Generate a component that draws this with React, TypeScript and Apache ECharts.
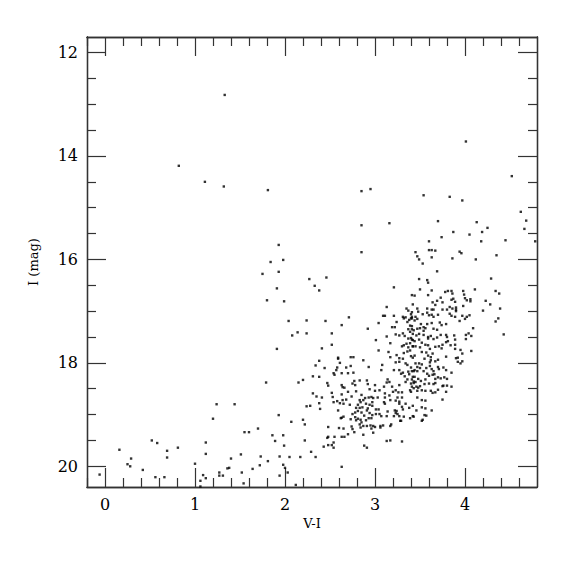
import React, { useEffect, useRef } from "react";
import * as echarts from "echarts";

// Tick values
const xMajorTicks = [0, 1, 2, 3, 4];
const xMinorTicks = [-0.2, 0.2, 0.4, 0.6, 0.8, 1.2, 1.4, 1.6, 1.8, 2.2, 2.4, 2.6, 2.8, 3.2, 3.4, 3.6, 3.8, 4.2, 4.4, 4.6];
const yMajorTicks = [12, 14, 16, 18, 20];
const yMinorTicks = [12.5, 13, 13.5, 14.5, 15, 15.5, 16.5, 17, 17.5, 18.5, 19, 19.5];

// Stars: [V-I, I]
const brightStars: number[][] = [
  [1.33, 12.82], [0.82, 14.19], [1.11, 14.5], [1.32, 14.59], [1.81, 14.66], [4.01, 13.72], [4.52, 14.39],
  [2.85, 14.68], [2.95, 14.64], [3.54, 14.76], [3.83, 14.79], [3.97, 14.86], [4.62, 15.08], [4.68, 15.25],
  [2.85, 15.34], [3.16, 15.3], [3.7, 15.26], [4.13, 15.28], [4.25, 15.39], [4.66, 15.41], [3.87, 15.47],
  [4.05, 15.52], [4.19, 15.47], [3.74, 15.57], [3.6, 15.65], [4.18, 15.65], [4.45, 15.63], [4.78, 15.65],
];

const blueStars: number[][] = [
  [1.93, 15.72], [1.84, 16.05], [1.98, 16.01], [1.93, 16.24], [1.75, 16.28], [1.91, 16.56], [1.8, 16.79],
  [1.99, 16.81], [2.04, 17.19], [1.91, 17.73], [1.79, 18.38], [1.93, 19.01], [1.2, 19.08], [1.24, 18.8],
  [1.44, 18.8], [1.7, 19.27], [1.55, 19.34], [1.6, 19.34], [1.86, 19.4], [1.98, 19.4], [1.89, 19.51],
  [1.99, 19.6], [1.12, 19.54], [1.12, 19.76], [1.0, 19.95], [0.16, 19.68], [0.29, 19.85], [0.25, 19.96],
  [0.28, 20.0], [0.42, 20.07], [0.52, 19.5], [0.58, 19.55], [0.69, 19.7], [0.69, 19.83], [0.81, 19.64],
  [-0.06, 20.16], [0.56, 20.21], [0.66, 20.21], [1.06, 20.28], [1.09, 20.17], [1.12, 20.23], [1.06, 20.39],
  [1.27, 20.12], [1.27, 20.18], [1.31, 20.18], [1.36, 20.04], [1.38, 20.03], [1.4, 19.85], [1.51, 19.77],
  [1.52, 20.12], [1.54, 20.33], [1.64, 20.05], [1.73, 19.81], [1.72, 19.98], [1.81, 19.9], [1.94, 19.81],
  [1.98, 19.97], [2.0, 20.03], [1.94, 20.18], [2.03, 20.12],
];

const midStars: number[][] = [
  [2.85, 15.86], [3.45, 15.86], [2.27, 16.38], [2.46, 16.35], [2.33, 16.51], [2.38, 16.6], [3.21, 16.54],
  [2.24, 17.18], [2.45, 17.19], [2.71, 17.12], [2.63, 17.27], [2.92, 17.34], [2.08, 17.47], [2.14, 17.41],
  [2.24, 17.43], [2.52, 17.43], [2.52, 17.65], [2.41, 17.72], [2.59, 17.9], [2.73, 17.89], [2.76, 17.89],
  [3.13, 16.92], [3.09, 17.09], [3.11, 17.09], [3.21, 17.09], [3.04, 17.23], [3.19, 17.31], [3.22, 17.31],
  [3.24, 17.21], [3.13, 17.49], [3.23, 17.45], [3.27, 17.47], [3.31, 17.43], [3.33, 17.48], [3.01, 17.56],
  [3.17, 17.62], [3.04, 17.76], [3.15, 17.79], [3.24, 17.85], [3.3, 17.68], [3.32, 17.66], [3.35, 16.95],
  [3.37, 16.99], [3.34, 17.12], [3.31, 17.11], [3.32, 17.14], [3.4, 17.06], [3.41, 17.11], [3.4, 17.14],
  [3.38, 17.17], [3.36, 17.21], [3.39, 17.28], [3.37, 17.35], [3.41, 17.35], [3.39, 17.4], [3.42, 17.44],
  [3.37, 17.53], [3.4, 17.52], [3.42, 17.56], [3.39, 17.62], [3.35, 17.63], [3.37, 17.7], [3.42, 17.68],
  [3.39, 17.76], [3.36, 17.78], [3.32, 17.81], [3.4, 17.87], [3.17, 17.89], [3.27, 17.91],
];

const clumpUpper: number[][] = [
  [3.6, 15.82], [3.63, 15.82], [3.67, 15.83], [3.47, 15.94], [3.49, 16.0], [3.63, 15.96], [3.53, 16.08],
  [3.86, 15.98], [3.94, 15.85], [3.96, 15.88], [4.12, 16.0], [4.35, 15.92], [3.69, 16.23], [4.29, 16.37],
  [3.49, 16.38], [3.58, 16.4], [3.59, 16.45], [3.5, 16.58], [3.63, 16.6], [3.41, 16.69], [3.44, 16.7],
  [3.59, 16.69], [3.78, 16.63], [3.81, 16.61], [3.85, 16.61], [3.86, 16.66], [3.98, 16.61], [3.99, 16.68],
  [4.11, 16.58], [4.34, 16.61], [4.38, 16.66], [3.73, 16.74], [3.75, 16.83], [3.85, 16.78], [3.87, 16.76],
  [3.89, 16.82], [4.0, 16.75], [4.02, 16.79], [4.06, 16.77], [4.06, 16.81], [4.23, 16.8], [3.64, 16.83],
  [3.69, 16.8], [3.42, 16.87], [3.67, 16.88], [4.28, 16.87], [3.98, 16.9], [3.58, 16.95], [3.65, 16.97],
  [3.63, 16.97], [3.75, 16.97], [3.8, 16.97], [3.83, 16.92], [3.86, 16.95], [3.9, 16.93], [3.9, 16.97],
  [4.2, 16.99], [4.39, 16.95], [3.47, 16.95], [3.48, 17.01], [3.53, 17.06], [3.58, 17.03], [3.6, 17.08],
  [3.63, 17.07], [3.65, 17.11], [3.7, 17.07], [3.41, 17.02], [3.45, 17.11], [3.41, 17.14], [3.44, 17.18],
  [3.47, 17.15], [3.83, 17.05], [3.85, 17.09], [3.9, 17.0], [3.89, 17.11], [3.97, 17.09], [4.02, 17.11],
  [4.0, 17.15], [4.05, 17.08], [3.94, 17.19], [4.37, 17.14], [4.34, 17.2], [3.51, 17.25], [3.58, 17.25],
  [3.63, 17.23], [3.72, 17.22], [3.74, 17.27], [3.79, 17.25], [4.09, 17.33],
];

const clumpMiddle: number[][] = [
  [3.41, 17.29], [3.43, 17.37], [3.47, 17.34], [3.5, 17.33], [3.54, 17.31], [3.56, 17.33], [3.54, 17.38],
  [3.65, 17.34], [3.69, 17.36], [3.46, 17.47], [3.49, 17.44], [3.54, 17.46], [3.59, 17.5], [3.59, 17.53],
  [3.62, 17.48], [3.65, 17.54], [3.69, 17.51], [3.73, 17.46], [3.79, 17.46], [3.8, 17.5], [3.81, 17.58],
  [3.79, 17.6], [3.88, 17.47], [3.89, 17.55], [4.01, 17.46], [4.01, 17.54], [4.04, 17.43], [4.07, 17.48],
  [4.43, 17.45], [3.41, 17.55], [3.44, 17.58], [3.45, 17.68], [3.42, 17.68], [3.49, 17.55], [3.52, 17.61],
  [3.5, 17.7], [3.56, 17.65], [3.59, 17.66], [3.61, 17.73], [3.67, 17.69], [3.71, 17.68], [3.74, 17.72],
  [3.75, 17.65], [3.84, 17.66], [3.89, 17.65], [3.89, 17.73], [3.95, 17.75], [3.97, 17.82], [4.07, 17.77],
  [3.52, 17.79], [3.57, 17.8], [3.59, 17.86], [3.64, 17.82], [3.62, 17.89], [3.79, 17.88], [3.92, 17.9],
  [3.44, 17.86], [3.42, 17.9],
];

const branchLower: number[][] = [
  [2.38, 17.96], [2.34, 18.05], [2.59, 17.92], [2.61, 18.0], [2.57, 18.14], [2.58, 18.09], [2.68, 18.09],
  [2.73, 18.06], [2.87, 17.95], [2.93, 18.08], [3.08, 18.04], [3.07, 18.14], [3.23, 17.99], [3.27, 17.98],
  [3.31, 17.92], [3.21, 18.14], [3.27, 18.14], [2.44, 18.1], [2.54, 18.2], [2.55, 18.23], [2.63, 18.2],
  [2.7, 18.2], [2.76, 18.19], [2.31, 18.26], [2.38, 18.27], [2.2, 18.33], [2.15, 18.38], [2.47, 18.39],
  [2.91, 18.34], [2.92, 18.41], [3.0, 18.43], [3.14, 18.32], [3.13, 18.38], [3.16, 18.37], [2.75, 18.4],
  [2.78, 18.43], [2.63, 18.43], [2.64, 18.47], [3.1, 18.46], [3.11, 18.59], [3.2, 18.56], [3.23, 18.53],
  [3.26, 18.57], [3.3, 18.57], [3.39, 18.53], [3.4, 18.56], [2.31, 18.59], [2.35, 18.65], [2.41, 18.67],
  [2.38, 18.78], [2.24, 18.84], [2.28, 18.83], [2.39, 18.89], [2.52, 18.58], [2.53, 18.66], [2.54, 18.76],
  [2.58, 18.74], [2.61, 18.78], [2.64, 18.72], [2.65, 18.79], [2.59, 18.92], [2.68, 18.71], [2.79, 18.55],
  [2.83, 18.72], [2.87, 18.72], [2.84, 18.76], [2.81, 18.81], [2.79, 18.87], [2.81, 18.93], [2.89, 18.68],
  [2.93, 18.67], [2.96, 18.66], [2.98, 18.68], [2.97, 18.76], [2.9, 18.79], [2.92, 18.88], [2.86, 18.86],
  [2.97, 18.83], [3.11, 18.67], [3.1, 18.76], [3.11, 18.79], [3.16, 18.63], [3.17, 18.72], [3.23, 18.73],
  [3.27, 18.75], [3.27, 18.79], [3.22, 18.92], [3.23, 18.97], [3.24, 18.93], [3.34, 18.79], [3.38, 18.87],
  [3.42, 18.83], [3.32, 19.04], [3.28, 19.12], [3.39, 19.07], [3.43, 19.04], [3.3, 18.85], [3.31, 18.9],
  [3.14, 18.94], [3.01, 18.9], [3.04, 18.9], [3.05, 18.99], [3.01, 18.99], [2.94, 18.97], [2.97, 19.01],
  [2.96, 19.07], [2.93, 19.07], [2.85, 18.96], [2.88, 19.02], [2.9, 19.11], [2.85, 19.15], [2.87, 19.22],
  [2.83, 19.19], [2.78, 19.05], [2.81, 19.08], [2.91, 19.22], [2.95, 19.21], [2.98, 19.22], [3.06, 19.22],
  [3.09, 19.21], [3.17, 19.22], [3.18, 19.19], [2.96, 19.27], [3.0, 19.24], [3.06, 19.25], [2.98, 19.35],
  [2.87, 19.39], [2.84, 19.25], [2.73, 19.09], [2.74, 19.23], [2.75, 19.28], [2.77, 19.34], [2.6, 19.26],
  [2.65, 19.27], [2.63, 19.43], [2.66, 19.43], [2.7, 19.38], [2.63, 19.06], [2.62, 19.07], [2.65, 19.04],
  [2.55, 19.43], [2.48, 19.43], [2.47, 19.45], [2.54, 19.54], [2.52, 19.59], [2.48, 19.59], [2.43, 19.62],
  [2.54, 19.64], [2.48, 19.24], [2.2, 19.1], [2.22, 19.19], [2.22, 19.5], [2.29, 19.72], [2.34, 19.82],
  [2.17, 19.82], [2.05, 19.82], [2.07, 19.14], [2.12, 20.36], [2.63, 20.01], [2.88, 19.6], [2.91, 19.64],
  [3.13, 19.51], [3.17, 19.5], [3.3, 19.52], [3.29, 18.21], [3.33, 18.26], [3.38, 18.22], [3.42, 18.27],
  [3.36, 18.32], [3.41, 18.32], [3.34, 18.37], [3.4, 18.4], [3.43, 18.36], [3.34, 18.01], [3.36, 18.04],
  [3.4, 18.09], [3.37, 18.17], [3.43, 18.16], [3.31, 18.19], [3.43, 18.49], [3.07, 19.03], [3.13, 19.03],
  [3.21, 19.03], [3.25, 18.99], [3.27, 19.03], [3.29, 19.12], [2.91, 18.92], [2.72, 18.81], [2.83, 18.87],
  [2.94, 18.81], [3.25, 18.67], [3.3, 18.67], [3.19, 18.46], [3.27, 18.43], [2.83, 18.34], [2.77, 18.35],
  [2.94, 18.51], [3.0, 18.54], [3.05, 18.53], [2.85, 18.62], [3.03, 18.67], [2.7, 18.56], [2.63, 18.61],
  [2.74, 18.65], [2.66, 18.48], [2.48, 18.44], [2.84, 19.1], [2.79, 19.11], [2.78, 18.96], [2.75, 18.99],
];

const clumpLower: number[][] = [
  [3.55, 17.92], [3.62, 17.95], [3.67, 17.97], [3.7, 17.94], [3.61, 17.99], [3.9, 17.91], [3.92, 17.98],
  [3.95, 18.01], [3.97, 17.97], [3.45, 18.01], [3.49, 18.01], [3.52, 18.03], [3.47, 18.08], [3.5, 18.1],
  [3.44, 18.14], [3.47, 18.16], [3.41, 18.16], [3.54, 18.16], [3.57, 18.1], [3.61, 18.06], [3.63, 18.12],
  [3.65, 18.16], [3.7, 18.08], [3.71, 18.12], [3.66, 18.22], [3.64, 18.23], [3.6, 18.25], [3.58, 18.21],
  [3.67, 18.31], [3.7, 18.28], [3.73, 18.3], [3.77, 18.28], [3.8, 18.31], [3.76, 18.44], [3.8, 18.44],
  [3.75, 18.45], [3.67, 18.39], [3.65, 18.41], [3.44, 18.27], [3.48, 18.31], [3.45, 18.37], [3.51, 18.35],
  [3.56, 18.32], [3.43, 18.39], [3.48, 18.48], [3.46, 18.46], [3.5, 18.45], [3.55, 18.41], [3.6, 18.4],
  [3.41, 18.46], [3.47, 18.54], [3.52, 18.53], [3.56, 18.54], [3.62, 18.54], [3.64, 18.58], [3.67, 18.57],
  [3.7, 18.52], [3.79, 18.56], [3.85, 18.46], [3.85, 18.19], [3.76, 18.09], [3.79, 18.14], [3.47, 18.67],
  [3.52, 18.72], [3.56, 18.73], [3.75, 18.71], [3.52, 18.86], [3.56, 18.88], [3.63, 18.92], [3.46, 18.92],
  [3.55, 19.01], [3.57, 19.02], [3.42, 19.03], [3.53, 19.1], [3.52, 19.12],
];

const allStars = [
  ...brightStars, ...blueStars, ...midStars, ...clumpUpper, ...clumpMiddle, ...branchLower, ...clumpLower,
];

const FONT = "DejaVu Serif";
const FRAME = "#333333";

function makeX(position: "bottom" | "top", ticks: number[], len: number, main: boolean): any {
  return {
    type: "value",
    position,
    min: -0.2,
    max: 4.8,
    gridIndex: 0,
    name: main ? "V-I" : "",
    nameLocation: "middle",
    nameGap: 22,
    nameTextStyle: { fontFamily: FONT, fontSize: 13, color: "#000" },
    axisLine: { show: true, onZero: false, lineStyle: { color: FRAME, width: 1.3 } },
    axisTick: { show: true, inside: true, length: len, customValues: ticks, lineStyle: { color: FRAME, width: 1.2 } },
    axisLabel: main
      ? { show: true, customValues: xMajorTicks, margin: 9, fontFamily: FONT, fontSize: 16, color: "#000" }
      : { show: false },
    splitLine: { show: false },
  };
}

function makeY(position: "left" | "right", ticks: number[], len: number, main: boolean): any {
  return {
    type: "value",
    position,
    inverse: true,
    min: 11.7,
    max: 20.4,
    gridIndex: 0,
    name: main ? "I (mag)" : "",
    nameLocation: "middle",
    nameGap: 47,
    nameTextStyle: { fontFamily: FONT, fontSize: 13, color: "#000" },
    axisLine: { show: true, onZero: false, lineStyle: { color: FRAME, width: 1.3 } },
    axisTick: { show: true, inside: true, length: len, customValues: ticks, lineStyle: { color: FRAME, width: 1.2 } },
    axisLabel: main
      ? { show: true, customValues: yMajorTicks, margin: 9, fontFamily: FONT, fontSize: 16, color: "#000" }
      : { show: false },
    splitLine: { show: false },
  };
}

export default function App() {
  const ref = useRef<HTMLDivElement>(null);
  useEffect(() => {
    if (!ref.current) return;
    const chart = echarts.init(ref.current, undefined, { renderer: "svg" });
    chart.setOption({
      animation: false,
      backgroundColor: "#ffffff",
      grid: { left: 87, top: 37, width: 450, height: 450, containLabel: false },
      xAxis: [
        makeX("bottom", xMajorTicks, 19, true),
        makeX("bottom", xMinorTicks, 9, false),
        makeX("top", xMajorTicks, 19, false),
        makeX("top", xMinorTicks, 9, false),
      ],
      yAxis: [
        makeY("left", yMajorTicks, 19, true),
        makeY("left", yMinorTicks, 9, false),
        makeY("right", yMajorTicks, 19, false),
        makeY("right", yMinorTicks, 9, false),
      ],
      series: [
        {
          type: "scatter",
          xAxisIndex: 0,
          yAxisIndex: 0,
          data: allStars,
          symbol: "rect",
          symbolSize: 2.4,
          itemStyle: { color: "#000" },
          silent: true,
        },
      ],
    });
    return () => chart.dispose();
  }, []);
  return (
    <div
      ref={ref}
      style={{ position: "absolute", left: 0, top: 0, width: 575, height: 575, background: "#fff" }}
    />
  );
}
